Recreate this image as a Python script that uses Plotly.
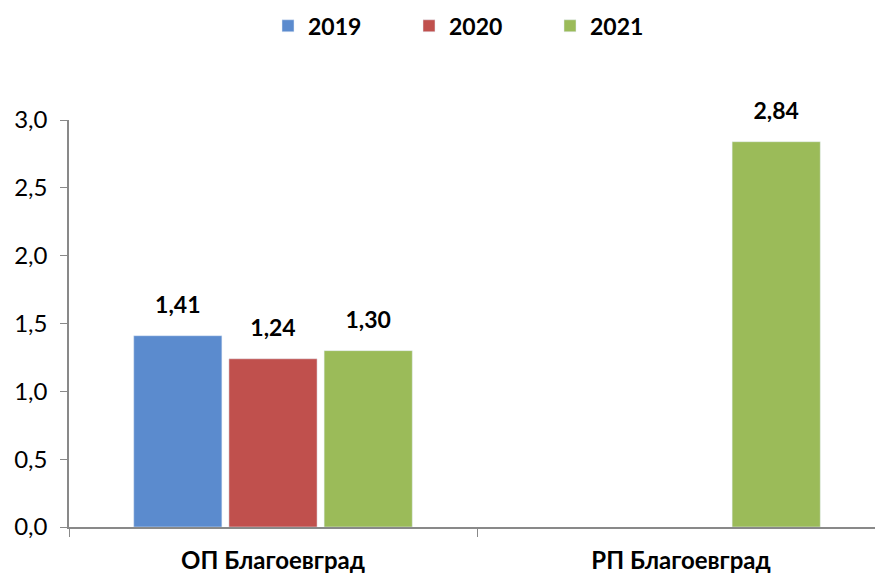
import plotly.graph_objects as go

categories = ["ОП Благоевград", "РП Благоевград"]
years = ["2019", "2020", "2021"]
v2019 = [1.41, None]
v2020 = [1.24, None]
v2021 = [1.30, 2.84]
colors = ["#5b8bce", "#c0504d", "#9bbb59"]

FONT = "Lato"

fig = go.Figure()
for name, vals, c in zip(years, [v2019, v2020, v2021], colors):
    fig.add_trace(go.Bar(
        x=categories, y=vals, name=name, marker_color=c,
        offsetgroup=name, alignmentgroup="g",
    ))
for name, vals in zip(years, [v2019, v2020, v2021]):
    fig.add_trace(go.Scatter(
        x=categories, y=vals, mode="markers+text", showlegend=False,
        offsetgroup=name, alignmentgroup="g", orientation="v",
        marker=dict(size=26, opacity=0),
        text=[None if v is None else f"{v:.2f}".replace(".", ",") for v in vals],
        textposition="top center",
        textfont=dict(family=FONT, size=23, color="black", weight="bold"),
        cliponaxis=False, hoverinfo="skip",
    ))

fig.update_layout(
    width=875, height=574,
    margin=dict(l=69, r=0, t=120, b=47),
    paper_bgcolor="white", plot_bgcolor="white",
    separators=", ",
    barmode="group", bargap=0.30, bargroupgap=0.074,
    scattermode="group", scattergap=0.30,
    font=dict(family=FONT, size=23, color="black"),
    legend=dict(orientation="h", x=0.548, xanchor="center", xref="container",
                y=0.955, yanchor="middle", yref="container",
                font=dict(family=FONT, size=23, color="black", weight="bold"),
                entrywidth=96, itemwidth=30),
    showlegend=True,
)
fig.update_xaxes(
    range=[-0.5, 1.4755], showline=True, linecolor="#898989", linewidth=1.5,
    ticks="outside", tickson="boundaries", ticklen=8, tickcolor="#898989",
    tickfont=dict(family=FONT, size=24, color="black", weight="bold"),
    ticklabelstandoff=11, showgrid=False, automargin=False,
)
fig.update_yaxes(
    range=[0, 3.0], dtick=0.5, tickformat=".1f", showline=True,
    linecolor="#898989", linewidth=1.5, ticks="outside", ticklen=7,
    tickcolor="#898989", showgrid=False, zeroline=False,
    tickfont=dict(family=FONT, size=24, color="black"),
    ticklabelstandoff=8, automargin=False,
)
fig.write_html("out.html", config={"displayModeBar": False},
               post_script="document.body.style.margin='0px';")
